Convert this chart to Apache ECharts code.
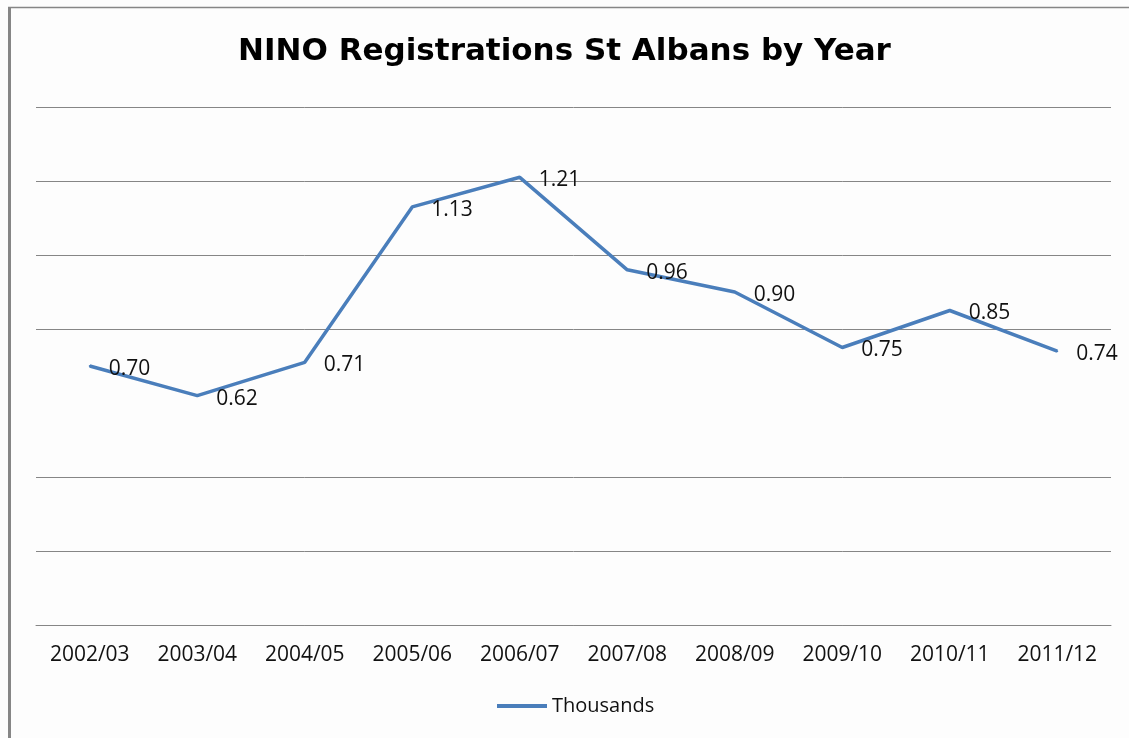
<!DOCTYPE html>
<html>
<head>
<meta charset="utf-8">
<title>NINO Registrations St Albans by Year</title>
<script src="https://cdn.jsdelivr.net/npm/echarts@6/dist/echarts.min.js"></script>
<style>
  html, body { margin: 0; padding: 0; background: #fdfdfd; }
  #chart { width: 1129px; height: 738px; }
</style>
</head>
<body>
<div id="chart"></div>
<script>
// Financial years on the category axis
const years = ['2002/03', '2003/04', '2004/05', '2005/06', '2006/07',
               '2007/08', '2008/09', '2009/10', '2010/11', '2011/12'];
// National Insurance number registrations, in thousands
const thousands = [0.70, 0.62, 0.71, 1.13, 1.21, 0.96, 0.90, 0.75, 0.85, 0.74];
// Value axis range (labels are not shown)
const yMin = 0;
const yMax = 1.4;
const yStep = 0.2;

const seriesName = 'Thousands';
const lineBlue = '#4a7ebb';
const gridGrey = '#868686';
const font = '"Open Sans", "Liberation Sans", sans-serif';
const titleFont = '"DejaVu Sans", "Liberation Sans", sans-serif';

const chart = echarts.init(document.getElementById('chart'), null, { renderer: 'canvas' });

chart.setOption({
  backgroundColor: '#fdfdfd',
  animation: false,
  title: {
    text: 'NINO Registrations St Albans by Year',
    left: 'center',
    top: 36,
    padding: 0,
    textStyle: { fontFamily: titleFont, fontWeight: 'bold', fontSize: 31, color: '#000' }
  },
  grid: { left: 36, right: 18, top: 107, bottom: 113, containLabel: false },
  xAxis: {
    type: 'category',
    data: years,
    boundaryGap: true,
    axisLine: { show: true, lineStyle: { color: gridGrey, width: 1 } },
    axisTick: { show: false },
    axisLabel: { fontFamily: font, fontSize: 21, color: '#111', margin: 20 }
  },
  yAxis: {
    type: 'value',
    min: yMin,
    max: yMax,
    interval: yStep,
    axisLine: { show: false },
    axisTick: { show: false },
    axisLabel: { show: false },
    splitLine: {
      show: true,
      lineStyle: {
        color: [gridGrey, gridGrey, gridGrey, 'rgba(0,0,0,0)', gridGrey, gridGrey, gridGrey, gridGrey],
        width: 1
      }
    }
  },
  legend: {
    data: [{ name: seriesName, icon: 'rect' }],
    left: 497,
    top: 696,
    padding: 0,
    itemWidth: 50,
    itemHeight: 4,
    itemGap: 5,
    textStyle: { fontFamily: font, fontSize: 20, color: '#111' }
  },
  graphic: [
    { type: 'line', shape: { x1: 9.5, y1: 7, x2: 9.5, y2: 738 }, style: { stroke: gridGrey, lineWidth: 3 } },
    { type: 'line', shape: { x1: 8, y1: 7.5, x2: 1129, y2: 7.5 }, style: { stroke: gridGrey, lineWidth: 1.5 } }
  ],
  series: [{
    name: seriesName,
    type: 'line',
    data: thousands,
    symbol: 'circle',
    symbolSize: 2,
    showSymbol: true,
    smooth: false,
    lineStyle: { color: lineBlue, width: 3.5 },
    itemStyle: { color: lineBlue },
    label: {
      show: true,
      position: 'right',
      distance: 18,
      offset: [0, 3],
      fontFamily: font,
      fontSize: 21,
      color: '#111',
      formatter: p => p.value.toFixed(2)
    }
  }]
});
</script>
</body>
</html>
